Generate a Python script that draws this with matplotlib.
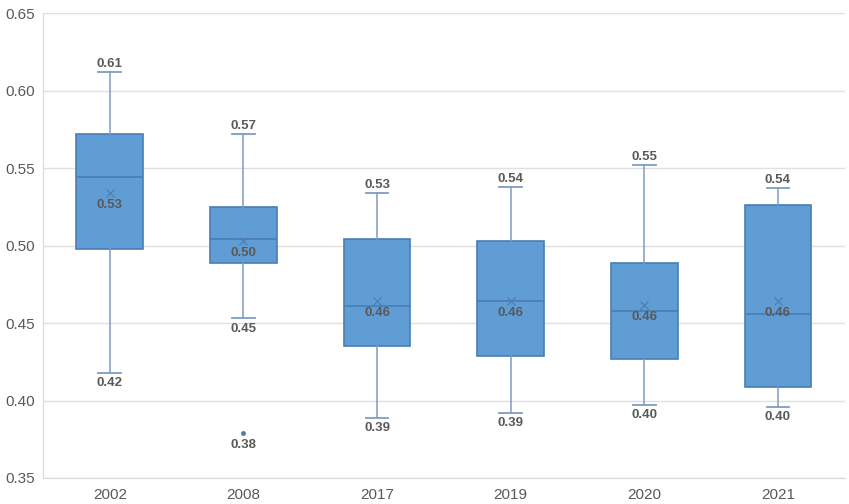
import matplotlib
matplotlib.use('Agg')
import matplotlib.pyplot as plt

years = ['2002', '2008', '2017', '2019', '2020', '2021']
whis_hi = [0.612, 0.572, 0.534, 0.538, 0.552, 0.537]
q3 = [0.572, 0.525, 0.504, 0.503, 0.489, 0.526]
median = [0.544, 0.504, 0.461, 0.464, 0.458, 0.456]
mean = [0.534, 0.503, 0.4645, 0.4645, 0.462, 0.4644]
q1 = [0.498, 0.489, 0.435, 0.429, 0.427, 0.409]
whis_lo = [0.418, 0.453, 0.389, 0.392, 0.397, 0.396]
outliers = [[], [0.379], [], [], [], []]

plt.rcParams['font.family'] = ['Liberation Sans', 'DejaVu Sans']

box_fill = '#619dd5'
box_edge = '#4a7db3'
whisk_col = '#7f9cc2'
text_col = '#595959'

fig = plt.figure(figsize=(8.49, 5.04), dpi=100)
ax = fig.add_axes([0.0506, 0.0516, 0.9444, 0.922])

stats = []
for i in range(len(years)):
    stats.append(dict(label=years[i], med=median[i], q1=q1[i], q3=q3[i],
                      whislo=whis_lo[i], whishi=whis_hi[i], mean=mean[i],
                      fliers=outliers[i]))

pos = list(range(len(years)))
ax.bxp(stats, positions=pos, widths=0.5, showmeans=True, patch_artist=True,
       capwidths=0.17,
       boxprops=dict(facecolor=box_fill, edgecolor=box_edge, linewidth=1.2),
       medianprops=dict(color=box_edge, linewidth=1.2),
       whiskerprops=dict(color=whisk_col, linewidth=1.1),
       capprops=dict(color=whisk_col, linewidth=1.3),
       meanprops=dict(marker='x', markeredgecolor='#4f7fb0', markersize=6, markeredgewidth=0.9),
       flierprops=dict(marker='o', markerfacecolor=box_edge, markeredgecolor=box_edge, markersize=2.5))

lab = dict(ha='center', fontsize=9.5, fontweight='bold', color=text_col,
           textcoords='offset points')
for i in pos:
    ax.annotate(f'{whis_hi[i]:.2f}', (i, whis_hi[i]), xytext=(0, 1.5), va='bottom', **lab)
    ax.annotate(f'{whis_lo[i]:.2f}', (i, whis_lo[i]), xytext=(0, -3), va='top', **lab)
    ax.annotate(f'{mean[i]:.2f}', (i, mean[i]), xytext=(0, -4.5), va='top', **lab)
    for o in outliers[i]:
        ax.annotate(f'{o:.2f}', (i, o), xytext=(0, -4), va='top', **lab)

ax.set_xlim(-0.5, len(years) - 0.5)
ax.set_ylim(0.35, 0.65)
ax.set_yticks([0.35, 0.40, 0.45, 0.50, 0.55, 0.60, 0.65])
ax.set_yticklabels([f'{v:.2f}' for v in ax.get_yticks()])
ax.set_xticks(pos)
ax.set_xticklabels(years)
ax.tick_params(axis='both', length=0, labelsize=11, labelcolor=text_col)
ax.tick_params(axis='y', pad=6)
ax.tick_params(axis='x', pad=7)
ax.yaxis.grid(True, color='#e0e0e0', linewidth=1)
ax.set_axisbelow(True)
for s in ['top', 'right']:
    ax.spines[s].set_visible(False)
for s in ['left', 'bottom']:
    ax.spines[s].set_color('#d9d9d9')

fig.savefig('out.png', dpi=100)
